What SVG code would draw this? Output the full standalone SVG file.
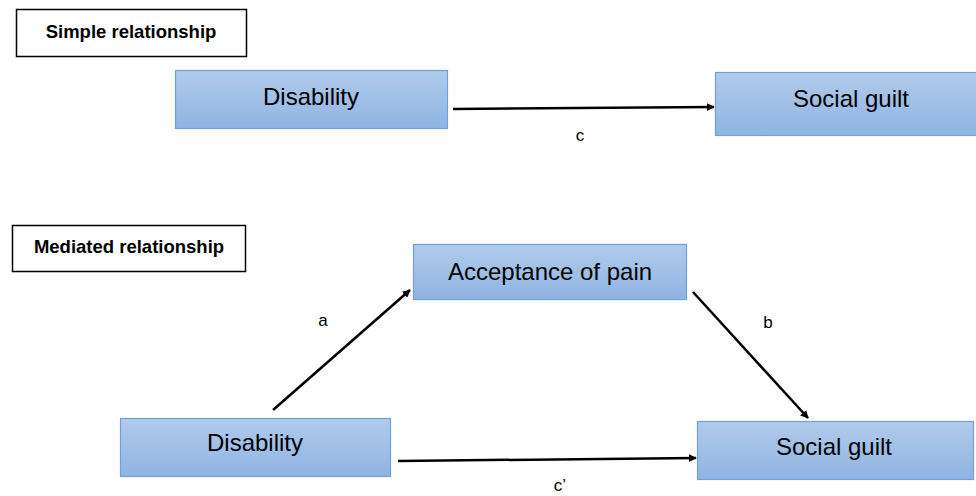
<svg xmlns="http://www.w3.org/2000/svg" width="976" height="496" viewBox="0 0 976 496">
<defs>
<linearGradient id="g" x1="0" y1="0" x2="0" y2="1">
<stop offset="0" stop-color="#b0cbeb"/>
<stop offset="1" stop-color="#8fb4e2"/>
</linearGradient>
<marker id="ah" viewBox="0 0 10 10" refX="9" refY="5" markerWidth="8" markerHeight="8" markerUnits="userSpaceOnUse" orient="auto">
<path d="M0,0 L10,5 L0,10 z" fill="#000"/>
</marker>
<style>
.node{fill:url(#g);stroke:#6fa0da;stroke-width:1.2}
.lbl{fill:#fff;stroke:#000;stroke-width:1.5}
.t{font-family:"Liberation Sans",Arial,sans-serif;font-size:24px;fill:#000;text-anchor:middle}
.h{font-family:"Liberation Sans",Arial,sans-serif;font-size:18.5px;font-weight:bold;fill:#000;text-anchor:middle}
.e{font-family:"Liberation Sans",Arial,sans-serif;font-size:17px;fill:#000;text-anchor:middle}
.c{stroke:#000;stroke-width:2.5;fill:none;marker-end:url(#ah)}
</style>
</defs>
<rect width="976" height="496" fill="#fff"/>
<g id="title-simple"><rect class="lbl" x="16.5" y="9.5" width="230" height="47"/><text class="h" x="131" y="38">Simple relationship</text></g>
<g id="title-mediated"><rect class="lbl" x="12.5" y="225.5" width="233" height="46"/><text class="h" x="129" y="253">Mediated relationship</text></g>
<g id="n-disability1"><rect class="node" x="175.5" y="70.5" width="272" height="58"/><text class="t" x="311" y="105">Disability</text></g>
<g id="n-guilt1"><rect class="node" x="715.5" y="72.5" width="262" height="63"/><text class="t" x="851" y="107">Social guilt</text></g>
<g id="n-accept"><rect class="node" x="413.5" y="244.5" width="273" height="55"/><text class="t" x="550" y="280">Acceptance of pain</text></g>
<g id="n-disability2"><rect class="node" x="120.5" y="418.5" width="270" height="58"/><text class="t" x="255" y="451">Disability</text></g>
<g id="n-guilt2"><rect class="node" x="697.5" y="421.5" width="276" height="58"/><text class="t" x="834" y="455">Social guilt</text></g>
<g id="connectors">
<line class="c" x1="453" y1="109" x2="714" y2="107"/>
<line class="c" x1="273" y1="410" x2="410" y2="290"/>
<line class="c" x1="693" y1="292" x2="808" y2="418"/>
<line class="c" x1="398" y1="461" x2="696" y2="458"/>
<text class="e" x="580" y="141">c</text>
<text class="e" x="323" y="326">a</text>
<text class="e" x="768" y="328">b</text>
<text class="e" x="560" y="491">c’</text>
</g>
</svg>
